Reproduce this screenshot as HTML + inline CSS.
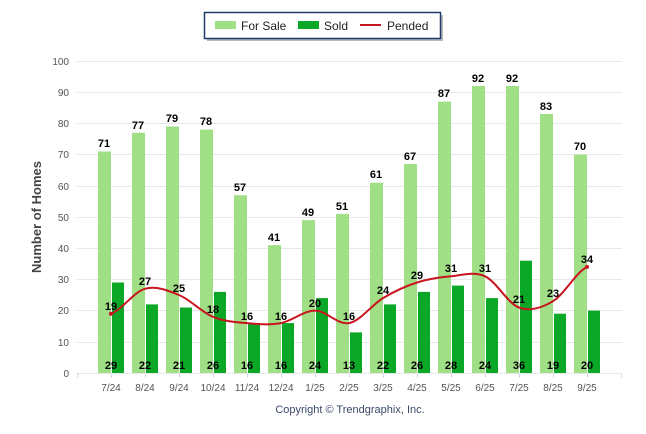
<!DOCTYPE html>
<html><head><meta charset="utf-8"><style>
body{margin:0;background:#fff}
svg{display:block}
text{font-family:"Liberation Sans",sans-serif}
.v{font-size:11px;font-weight:bold;fill:#000;text-anchor:middle}
.ax{font-size:10px;fill:#555}
</style></head><body>
<svg width="646" height="434" viewBox="0 0 646 434">
<!-- legend -->
<rect x="207" y="15" width="236" height="26" fill="#8a8a8a" opacity="0.6"/>
<rect x="204.5" y="12.5" width="236" height="26" fill="#fff" stroke="#1f3a6a" stroke-width="1.5"/>
<rect x="215" y="21" width="21" height="8" fill="#a1df86"/>
<text x="241" y="30" font-size="12" fill="#222">For Sale</text>
<rect x="298" y="21" width="21" height="8" fill="#0aa826"/>
<text x="324" y="30" font-size="12" fill="#222">Sold</text>
<rect x="360" y="24" width="21" height="2" fill="#c8141e"/>
<text x="387" y="30" font-size="12" fill="#222">Pended</text>
<!-- grid -->
<g stroke="#e8e8e8" stroke-width="1">
<line x1="77" x2="622" y1="61.5" y2="61.5"/><line x1="77" x2="622" y1="92.5" y2="92.5"/>
<line x1="77" x2="622" y1="123.5" y2="123.5"/><line x1="77" x2="622" y1="154.5" y2="154.5"/>
<line x1="77" x2="622" y1="186.5" y2="186.5"/><line x1="77" x2="622" y1="217.5" y2="217.5"/>
<line x1="77" x2="622" y1="248.5" y2="248.5"/><line x1="77" x2="622" y1="279.5" y2="279.5"/>
<line x1="77" x2="622" y1="310.5" y2="310.5"/><line x1="77" x2="622" y1="342.5" y2="342.5"/>
<line x1="77" x2="622" y1="373.5" y2="373.5"/>
</g>
<g stroke="#ddd">
<path d="M77.5 373v5M111.5 373v5M145.5 373v5M179.5 373v5M213.5 373v5M247.5 373v5M281.5 373v5M315.5 373v5M349.5 373v5M383.5 373v5M417.5 373v5M451.5 373v5M485.5 373v5M519.5 373v5M553.5 373v5M587.5 373v5M621.5 373v5"/>
</g>
<g class="ax" text-anchor="end">
<text x="69" y="65">100</text><text x="69" y="96">90</text><text x="69" y="127">80</text><text x="69" y="158">70</text>
<text x="69" y="190">60</text><text x="69" y="221">50</text><text x="69" y="252">40</text><text x="69" y="283">30</text>
<text x="69" y="314">20</text><text x="69" y="346">10</text><text x="69" y="377">0</text>
</g>
<g class="ax" text-anchor="middle">
<text x="111" y="391">7/24</text><text x="145" y="391">8/24</text><text x="179" y="391">9/24</text><text x="213" y="391">10/24</text>
<text x="247" y="391">11/24</text><text x="281" y="391">12/24</text><text x="315" y="391">1/25</text><text x="349" y="391">2/25</text>
<text x="383" y="391">3/25</text><text x="417" y="391">4/25</text><text x="451" y="391">5/25</text><text x="485" y="391">6/25</text>
<text x="519" y="391">7/25</text><text x="553" y="391">8/25</text><text x="587" y="391">9/25</text>
</g>
<text transform="translate(41,217) rotate(-90)" text-anchor="middle" font-size="13" font-weight="bold" fill="#444">Number of Homes</text>
<text x="350" y="413" text-anchor="middle" font-size="11" fill="#3a4a6a">Copyright © Trendgraphix, Inc.</text>
<!-- for sale bars -->
<g fill="#a1df86">
<rect x="98" y="151.5" width="13" height="221.5"/><rect x="132" y="132.8" width="13" height="240.2"/>
<rect x="166" y="126.5" width="13" height="246.5"/><rect x="200" y="129.6" width="13" height="243.4"/>
<rect x="234" y="195.2" width="13" height="177.8"/><rect x="268" y="245.1" width="13" height="127.9"/>
<rect x="302" y="220.1" width="13" height="152.9"/><rect x="336" y="213.9" width="13" height="159.1"/>
<rect x="370" y="182.7" width="13" height="190.3"/><rect x="404" y="164" width="13" height="209"/>
<rect x="438" y="101.6" width="13" height="271.4"/><rect x="472" y="86" width="13" height="287"/>
<rect x="506" y="86" width="13" height="287"/><rect x="540" y="114" width="13" height="259"/>
<rect x="574" y="154.6" width="13" height="218.4"/>
</g>
<g fill="#0aa826">
<rect x="112" y="282.5" width="12" height="90.5"/><rect x="146" y="304.4" width="12" height="68.6"/>
<rect x="180" y="307.5" width="12" height="65.5"/><rect x="214" y="291.9" width="12" height="81.1"/>
<rect x="248" y="323.1" width="12" height="49.9"/><rect x="282" y="323.1" width="12" height="49.9"/>
<rect x="316" y="298.1" width="12" height="74.9"/><rect x="350" y="332.4" width="12" height="40.6"/>
<rect x="384" y="304.4" width="12" height="68.6"/><rect x="418" y="291.9" width="12" height="81.1"/>
<rect x="452" y="285.6" width="12" height="87.4"/><rect x="486" y="298.1" width="12" height="74.9"/>
<rect x="520" y="260.7" width="12" height="112.3"/><rect x="554" y="313.7" width="12" height="59.3"/>
<rect x="588" y="310.6" width="12" height="62.4"/>
</g>
<path fill="none" stroke="#c8141e" stroke-width="2" d="M111,313.7 C122.3,309.6 133.7,291.9 145,288.8 C156.3,285.7 167.7,290.3 179,295 C190.3,299.7 201.7,312.1 213,316.8 C224.3,321.5 235.7,322.1 247,323.1 C258.3,324.2 269.7,325.2 281,323.1 C292.3,321 303.7,310.6 315,310.6 C326.3,310.6 337.7,325.2 349,323.1 C360.3,321 371.7,304.9 383,298.1 C394.3,291.3 405.7,286.1 417,282.5 C428.3,278.9 439.7,277.3 451,276.3 C462.3,275.3 473.7,271.1 485,276.3 C496.3,281.5 507.7,303.4 519,307.5 C530.3,311.7 541.7,308 553,301.2 C564.3,294.4 575.7,272.6 587,266.9"/>
<circle cx="111" cy="313.7" r="2" fill="#c8141e"/><circle cx="587" cy="266.9" r="2" fill="#c8141e"/>
<!-- for sale labels -->
<g class="v">
<text x="104" y="147">71</text><text x="138" y="129">77</text><text x="172" y="122">79</text><text x="206" y="125">78</text>
<text x="240" y="191">57</text><text x="274" y="241">41</text><text x="308" y="216">49</text><text x="342" y="210">51</text>
<text x="376" y="178">61</text><text x="410" y="160">67</text><text x="444" y="97">87</text><text x="478" y="82">92</text>
<text x="512" y="82">92</text><text x="546" y="110">83</text><text x="580" y="150">70</text>
</g>
<g class="v">
<text x="111" y="369">29</text><text x="145" y="369">22</text><text x="179" y="369">21</text><text x="213" y="369">26</text>
<text x="247" y="369">16</text><text x="281" y="369">16</text><text x="315" y="369">24</text><text x="349" y="369">13</text>
<text x="383" y="369">22</text><text x="417" y="369">26</text><text x="451" y="369">28</text><text x="485" y="369">24</text>
<text x="519" y="369">36</text><text x="553" y="369">19</text><text x="587" y="369">20</text>
</g>
<g class="v">
<text x="111" y="310">19</text><text x="145" y="285">27</text><text x="179" y="292">25</text><text x="213" y="313">18</text>
<text x="247" y="320">16</text><text x="281" y="320">16</text><text x="315" y="307">20</text><text x="349" y="320">16</text>
<text x="383" y="294">24</text><text x="417" y="279">29</text><text x="451" y="272">31</text><text x="485" y="272">31</text>
<text x="519" y="303">21</text><text x="553" y="297">23</text><text x="587" y="263">34</text>
</g>
</svg>
</body></html>
